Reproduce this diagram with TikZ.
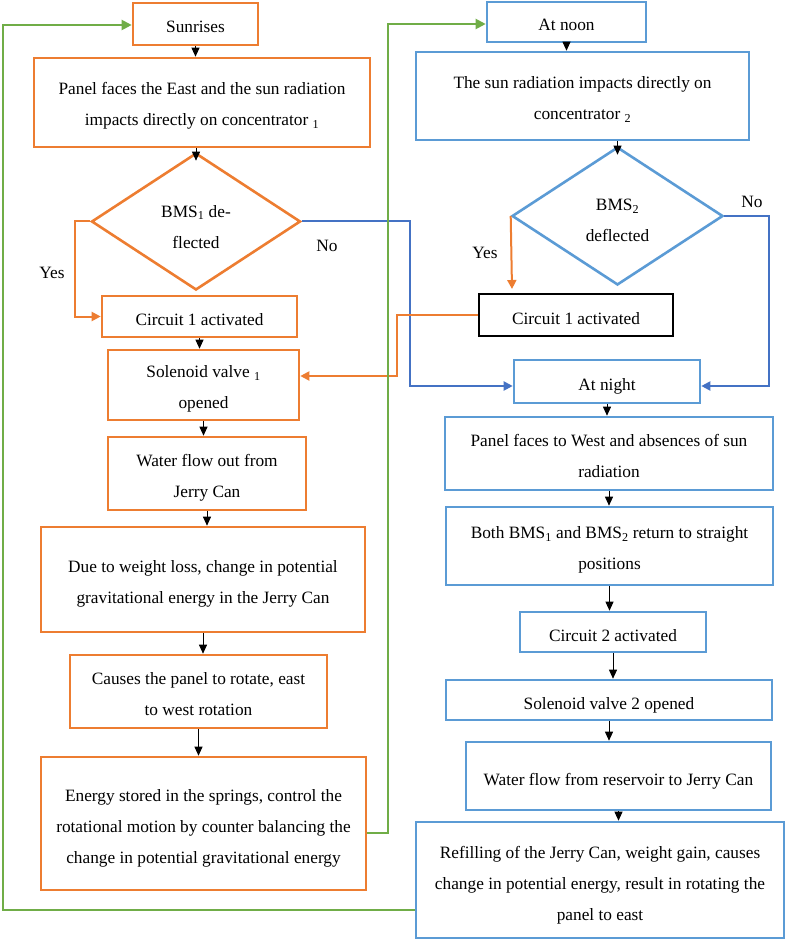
\documentclass[tikz,border=0pt]{standalone}
\usepackage{fontspec}
\setmainfont{Liberation Serif}
\usetikzlibrary{shapes.geometric,arrows.meta}
\definecolor{oran}{HTML}{ED7D31}
\definecolor{blu}{HTML}{5B9BD5}
\definecolor{dblu}{HTML}{4472C4}
\definecolor{grn}{HTML}{70AD47}
\newcommand\toprl[1]{\rule{0pt}{#1}}
\begin{document}
\begin{tikzpicture}[x=1pt,y=-1pt,
  txt/.style={font=\fontsize{17.3}{31}\selectfont, align=center, inner sep=0pt,
    execute at begin node={\rule{0pt}{22pt}},
    execute at end node={\rule[-4pt]{0pt}{4pt}}},
  obox/.style={txt, draw=oran, line width=2.6pt, rectangle},
  bbox/.style={txt, draw=blu, line width=2.6pt, rectangle},
  kbox/.style={txt, draw=black, line width=1.6pt, rectangle},
  odia/.style={txt, draw=oran, line width=2.6pt, diamond},
  bdia/.style={txt, draw=blu, line width=2.6pt, diamond},
  karr/.style={draw=black, line width=0.9pt, -{Triangle[length=9pt,width=8pt]}},
  oarr/.style={draw=oran, line width=2pt, -{Triangle[length=9pt,width=9pt]}},
  barr/.style={draw=dblu, line width=2pt, -{Triangle[length=9pt,width=9pt]}},
  garr/.style={draw=grn, line width=2pt, -{Triangle[length=10pt,width=10pt]}},
  lbl/.style={font=\fontsize{17.3}{20}\selectfont, inner sep=0pt}]
\useasboundingbox (0,0) rectangle (787,941);

% left column
\node[obox, minimum width=125, minimum height=42] (s1) at (195.5,24) {Sunrises};
\node[obox, minimum width=336, minimum height=89] (p1) at (202,102.5) {\toprl{20pt}Panel faces the East and the sun radiation\\impacts directly on concentrator \textsubscript{1}};
\node[odia, minimum width=209, minimum height=137] (d1) at (196,221.5) {\toprl{26pt}BMS\textsubscript{1} de-\\flected};
\node[obox, minimum width=195, minimum height=41] (c1) at (199.5,316.5) {Circuit 1 activated};
\node[obox, minimum width=191, minimum height=70] (v1) at (203.5,385) {\toprl{20pt}Solenoid valve \textsubscript{1}\\opened};
\node[obox, minimum width=198, minimum height=73] (w1) at (207,473.5) {\toprl{20pt}Water flow out from\\Jerry Can};
\node[obox, minimum width=324, minimum height=105] (g1) at (203,579.5) {\toprl{20pt}Due to weight loss, change in potential\\gravitational energy in the Jerry Can};
\node[obox, minimum width=257, minimum height=73] (r1) at (198.5,691.5) {\toprl{20pt}Causes the panel to rotate, east\\to west rotation};
\node[obox, minimum width=325, minimum height=133] (e1) at (203.5,823.5) {\toprl{22pt}Energy stored in the springs, control the\\rotational motion by counter balancing the\\change in potential gravitational energy};

% right column
\node[bbox, minimum width=159, minimum height=40] (n2) at (566.5,22) {At noon};
\node[bbox, minimum width=333, minimum height=88] (p2) at (582.5,96) {\toprl{20pt}The sun radiation impacts directly on\\concentrator \textsubscript{2}};
\node[bdia, minimum width=211, minimum height=138] (d2) at (617.5,216) {\toprl{24pt}BMS\textsubscript{2}\\deflected};
\node[kbox, minimum width=194, minimum height=42] (c2) at (576,315) {Circuit 1 activated};
\node[bbox, minimum width=186, minimum height=43] (t2) at (607,381.5) {At night};
\node[bbox, minimum width=328, minimum height=73] (f2) at (609,453.5) {\toprl{20pt}Panel faces to West and absences of sun\\radiation};
\node[bbox, minimum width=327, minimum height=78] (b2) at (609.5,546) {\toprl{20pt}Both BMS\textsubscript{1} and BMS\textsubscript{2} return to straight\\positions};
\node[bbox, minimum width=186, minimum height=40] (k2) at (613,632) {Circuit 2 activated};
\node[bbox, minimum width=326, minimum height=40] (v2) at (609,700) {Solenoid valve 2 opened};
\node[bbox, minimum width=305, minimum height=68] (w2) at (618.5,776) {Water flow from reservoir to Jerry Can};
\node[bbox, minimum width=368, minimum height=116] (r2) at (600,880) {\toprl{22pt}Refilling of the Jerry Can, weight gain, causes\\change in potential energy, result in rotating the\\panel to east};

% black arrows left
\foreach \a/\b in {s1/p1,c1/v1,v1/w1,w1/g1,g1/r1,r1/e1}
  \draw[karr] (\a.south) -- (\a.south |- \b.north);
\draw[karr] (p1.south -| d1.north) -- ([yshift=-9pt]d1.north);
% black arrows right
\foreach \a/\b in {n2/p2,t2/f2,f2/b2,b2/k2,k2/v2,v2/w2,w2/r2}
  \draw[karr] (\a.south) -- (\a.south |- \b.north);
\draw[karr] (p2.south -| d2.north) -- ([yshift=-9pt]d2.north);

% yes / no branches
\draw[oarr] (d1.west) -- (75,221.5) -- (75,316.5) -- (c1.west);
\node[lbl] (yes1) at (52,273) {Yes};
\draw[barr] (d1.east) -- (410,221.5) -- (410,386) -- ([yshift=-4.5pt]t2.west);
\node[lbl] (no1) at (327,246) {No};
\coordinate (yesend) at (512,289);
\draw[oarr] (d2.west) -- (yesend);
\node[lbl] (yes2) at (485,253) {Yes};
\draw[barr] (d2.east) -- (769,216) -- (769,386) -- ([yshift=-4.5pt]t2.east);
\node[lbl] (no2) at (752,202) {No};
\draw[oarr] (c2.west) -- (397,315) -- (397,376) -- ([yshift=9pt]v1.east);

% green loops
\draw[garr] ([yshift=-9.5pt]e1.east) -- (388,833) -- (388,24) -- ([yshift=-2pt]n2.west);
\draw[garr] ([yshift=-30pt]r2.west) -- (3,910) -- (3,25) -- ([yshift=-1pt]s1.west);
\end{tikzpicture}
\end{document}
